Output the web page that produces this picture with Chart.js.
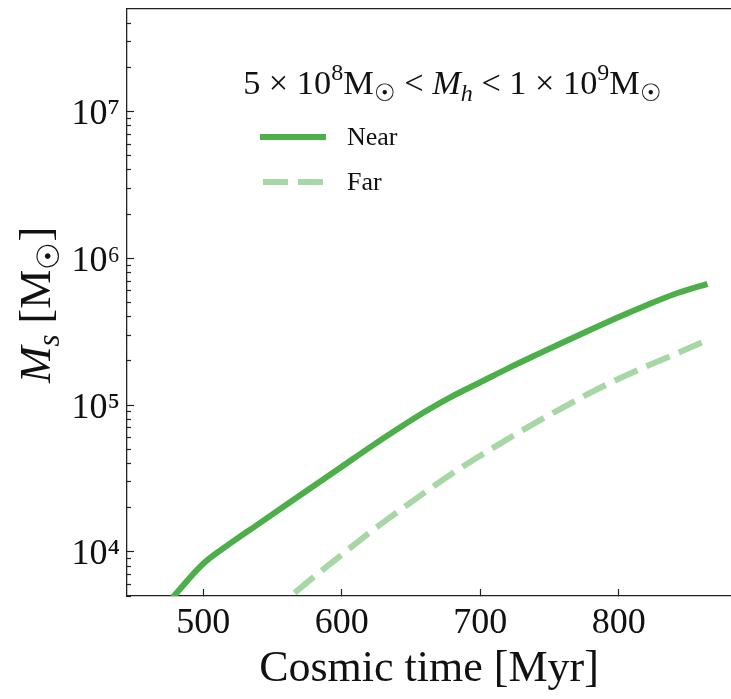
<!DOCTYPE html>
<html>
<head>
<meta charset="utf-8">
<script src="https://cdn.jsdelivr.net/npm/chart.js@4.4.0/dist/chart.umd.min.js"></script>
<style>
  html, body { margin: 0; padding: 0; background: #ffffff; overflow: hidden; }
  canvas { display: block; }
</style>
</head>
<body>
<canvas id="chart" width="731" height="699"></canvas>
<script>
// ---------------- data ----------------
const nearTime = [478, 500, 520, 540, 560, 580, 600, 620, 640, 660, 680, 700, 720, 740, 760, 780, 800, 820, 840, 864];
const nearMass = [4.9e3, 8.3e3, 1.15e4, 1.55e4, 2.09e4, 2.82e4, 3.8e4, 5.13e4, 6.84e4, 9.0e4, 1.15e5, 1.43e5, 1.78e5, 2.19e5, 2.68e5, 3.27e5, 3.98e5, 4.79e5, 5.69e5, 6.7e5];

const farTime = [566, 580, 600, 620, 640, 660, 680, 700, 720, 740, 760, 780, 800, 820, 840, 863];
const farMass = [5.25e3, 6.76e3, 9.55e3, 1.35e4, 1.86e4, 2.54e4, 3.43e4, 4.52e4, 5.89e4, 7.59e4, 9.66e4, 1.22e5, 1.51e5, 1.84e5, 2.21e5, 2.75e5];

const seriesLabels = ['Near', 'Far'];
const xTickValues = [500, 600, 700, 800];
const yMajorTicks = [1e4, 1e5, 1e6, 1e7];
const yMinorTicks = [5e3, 6e3, 7e3, 8e3, 9e3,
  2e4, 3e4, 4e4, 5e4, 6e4, 7e4, 8e4, 9e4,
  2e5, 3e5, 4e5, 5e5, 6e5, 7e5, 8e5, 9e5,
  2e6, 3e6, 4e6, 5e6, 6e6, 7e6, 8e6, 9e6,
  2e7, 3e7, 4e7];
const xRange = [445, 881];
const yRange = [5e3, 5e7];
const xAxisTitle = 'Cosmic time [Myr]';

// ---------------- styles ----------------
const GREEN = 'rgb(77,175,74)';
const GREEN_LIGHT = 'rgba(77,175,74,0.5)';
const SERIF = "'Liberation Serif', 'DejaVu Serif', serif";
const INK = '#111111';
const AXIS = '#222222';

const SUP = {'0':'⁰','1':'¹','2':'²','3':'³','4':'⁴','5':'⁵','6':'⁶','7':'⁷','8':'⁸','9':'⁹'};
const supStr = n => String(n).split('').map(c => SUP[c] || c).join('');

function richWidth(ctx, segs, size) {
  let w = 0;
  for (const s of segs) {
    const fs = s.pos ? size * 0.7 : size;
    ctx.font = (s.it ? 'italic ' : '') + fs + 'px ' + SERIF;
    w += ctx.measureText(s.t).width;
  }
  return w;
}
function drawRich(ctx, segs, x, y, size) {
  ctx.textBaseline = 'alphabetic';
  ctx.textAlign = 'left';
  let cx = x;
  for (const s of segs) {
    const fs = s.pos ? size * 0.7 : size;
    ctx.font = (s.it ? 'italic ' : '') + fs + 'px ' + SERIF;
    let dy = 0;
    if (s.pos === 'sup') dy = -size * 0.42;
    if (s.pos === 'sub') dy = size * 0.2;
    ctx.fillText(s.t, cx, y + dy);
    cx += ctx.measureText(s.t).width;
  }
}

const titleSegs = [
  {t: '5 × 10'}, {t: '8', pos: 'sup'}, {t: 'M'}, {t: '☉', pos: 'sub'},
  {t: ' < '}, {t: 'M', it: true}, {t: 'h', it: true, pos: 'sub'},
  {t: ' < 1 × 10'}, {t: '9', pos: 'sup'}, {t: 'M'}, {t: '☉', pos: 'sub'}
];
const yTitleSegs = [
  {t: 'M', it: true}, {t: 's', it: true, pos: 'sub'}, {t: ' [M'}, {t: '☉', pos: 'sub'}, {t: ']'}
];

const overlay = {
  id: 'overlay',
  afterDraw(chart) {
    const ctx = chart.ctx;
    ctx.save();
    ctx.fillStyle = INK;

    const targetW = 419;
    const s0 = 28;
    const w0 = richWidth(ctx, titleSegs, s0);
    const tSize = s0 * targetW / w0;
    const tw = richWidth(ctx, titleSegs, tSize);
    drawRich(ctx, titleSegs, 452.5 - tw / 2, 94, tSize);

    const ds = chart.data.datasets;
    const rows = [
      {ds: ds[0], y: 137, x0: 260, x1: 326},
      {ds: ds[1], y: 182, x0: 263, x1: 323}
    ];
    for (const r of rows) {
      ctx.save();
      ctx.strokeStyle = r.ds.borderColor;
      ctx.lineWidth = r.ds.borderWidth;
      ctx.lineCap = 'butt';
      ctx.setLineDash(r.ds.borderDash || []);
      ctx.beginPath();
      ctx.moveTo(r.x0, r.y);
      ctx.lineTo(r.x1, r.y);
      ctx.stroke();
      ctx.restore();
      ctx.fillStyle = INK;
      ctx.font = '26px ' + SERIF;
      ctx.textBaseline = 'alphabetic';
      ctx.textAlign = 'left';
      ctx.fillText(r.ds.label, 347, r.y + 8);
    }

    const ySize = 44;
    const yw = richWidth(ctx, yTitleSegs, ySize);
    ctx.translate(50, 305);
    ctx.rotate(-Math.PI / 2);
    drawRich(ctx, yTitleSegs, -yw / 2, 0, ySize);
    ctx.restore();
  }
};

const tickGrid = (len) => ({
  display: true, drawOnChartArea: false, drawTicks: true,
  tickLength: len, tickColor: AXIS, tickWidth: 1.2
});
const noPad = s => { s.paddingTop = 0; s.paddingBottom = 0; s.paddingLeft = 0; s.paddingRight = 0; };

new Chart(document.getElementById('chart').getContext('2d'), {
  type: 'line',
  data: {
    datasets: [
      {
        label: seriesLabels[0],
        data: nearTime.map((t, i) => ({x: t, y: nearMass[i]})),
        borderColor: GREEN, borderWidth: 6, pointRadius: 0,
        cubicInterpolationMode: 'monotone', fill: false, borderCapStyle: 'butt'
      },
      {
        label: seriesLabels[1],
        data: farTime.map((t, i) => ({x: t, y: farMass[i]})),
        borderColor: GREEN_LIGHT, borderWidth: 6, pointRadius: 0, borderDash: [25, 10],
        cubicInterpolationMode: 'monotone', fill: false, borderCapStyle: 'butt'
      }
    ]
  },
  options: {
    responsive: false, animation: false, devicePixelRatio: 1,
    layout: {padding: {top: 9, left: 0, right: 0, bottom: 0}},
    plugins: {legend: {display: false}, tooltip: {enabled: false}, title: {display: false}},
    scales: {
      x: {
        type: 'linear', position: 'bottom', min: xRange[0], max: xRange[1],
        afterBuildTicks: s => { s.ticks = xTickValues.map(v => ({value: v})); },
        afterFit: s => { s.height = 103; noPad(s); },
        grid: tickGrid(-7),
        border: {display: true, color: AXIS, width: 1.3},
        ticks: {color: INK, font: {family: SERIF, size: 36}, padding: 13, maxRotation: 0, autoSkip: false,
                callback: v => String(v)},
        title: {display: true, text: xAxisTitle, color: INK, font: {family: SERIF, size: 44},
                padding: {top: 0, bottom: 3}}
      },
      xTop: {
        type: 'linear', position: 'top', min: xRange[0], max: xRange[1],
        afterFit: s => { s.height = 0; noPad(s); },
        grid: {display: false, drawTicks: false},
        ticks: {display: false},
        border: {display: true, color: AXIS, width: 1.3}
      },
      y: {
        type: 'logarithmic', position: 'left', min: yRange[0], max: yRange[1], weight: 1,
        afterBuildTicks: s => { s.ticks = yMajorTicks.map(v => ({value: v, major: true})); },
        afterFit: s => { s.width = 127; noPad(s); },
        grid: tickGrid(-7),
        border: {display: true, color: AXIS, width: 1.3},
        ticks: {color: INK, font: {family: SERIF, size: 36}, padding: 14, autoSkip: false, labelOffset: 3,
                callback: v => '10' + supStr(Math.round(Math.log10(v)))}
      },
      yMinor: {
        type: 'logarithmic', position: 'left', min: yRange[0], max: yRange[1], weight: 0,
        afterBuildTicks: s => { s.ticks = yMinorTicks.map(v => ({value: v})); },
        afterFit: s => { s.width = 0; noPad(s); },
        grid: tickGrid(-4),
        border: {display: false},
        ticks: {display: true, autoSkip: false, callback: () => '', font: {size: 1}, padding: 0}
      }
    }
  },
  plugins: [overlay]
});
</script>
</body>
</html>
